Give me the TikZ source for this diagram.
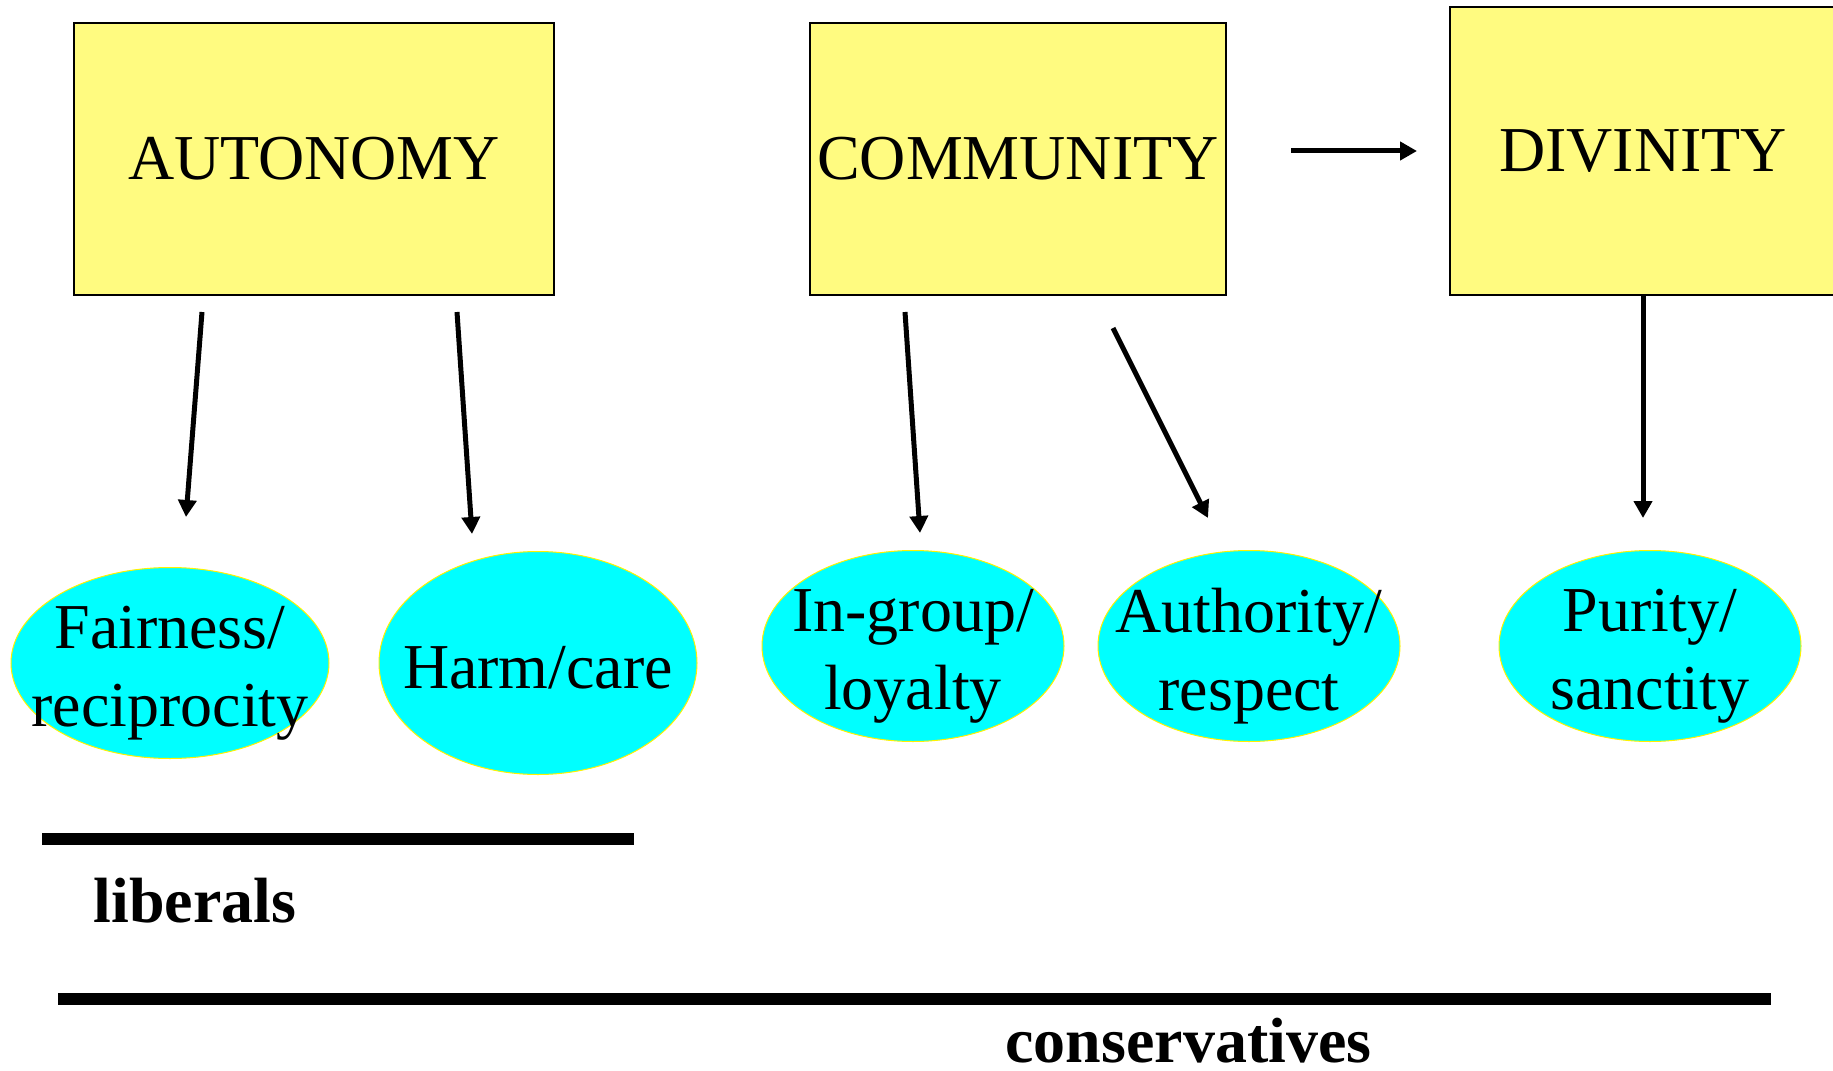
\documentclass[tikz,border=0pt]{standalone}
\usepackage{fontspec}
\setmainfont{Liberation Serif}
\usepackage{tikz}
\usetikzlibrary{arrows.meta, shapes.geometric}

\definecolor{boxyellow}{RGB}{255,251,128}
\definecolor{ovalcyan}{RGB}{0,255,255}

\begin{document}
\begin{tikzpicture}[>={Triangle[length=0.17cm,width=0.18cm]},line width=0.05cm]
\tikzstyle{ethicbox}=[rectangle,fill=boxyellow,draw=black,line width=0.02cm,inner sep=0pt]
\tikzstyle{foundoval}=[ellipse,fill=ovalcyan,draw=yellow,line width=0.01cm,inner sep=0pt]
\tikzstyle{ovaltext}=[align=center,inner sep=0pt,yshift=-0.1cm]
\tikzstyle{grouplabel}=[anchor=base west,inner sep=0pt,font=\bfseries\fontsize{18.2}{22.2}\selectfont]
\tikzset{font=\fontsize{18.2}{22.2}\selectfont}

\useasboundingbox (0,0) rectangle (18.33,-10.71);

        % ethics boxes
        \node[ethicbox,minimum width=4.80cm,minimum height=2.72cm]   (auto) at (3.14,-1.59)  {AUTONOMY};
        \node[ethicbox,minimum width=4.16cm,minimum height=2.72cm]   (comm) at (10.18,-1.59) {COMMUNITY};
        \node[ethicbox,minimum width=3.86cm,minimum height=2.88cm]   (div)  at (16.43,-1.51) {DIVINITY};

        % foundations
        \node[foundoval,minimum width=3.18cm,minimum height=1.91cm,
              label={[ovaltext]center:Fairness/\\reciprocity}]   (fair) at (1.70,-6.63)  {};
        \node[foundoval,minimum width=3.18cm,minimum height=2.23cm,
              label={[ovaltext,yshift=0.05cm]center:Harm/care}]  (harm) at (5.38,-6.63)  {};
        \node[foundoval,minimum width=3.02cm,minimum height=1.91cm,
              label={[ovaltext]center:In-group/\\loyalty}]       (ing)  at (9.13,-6.46)  {};
        \node[foundoval,minimum width=3.02cm,minimum height=1.91cm,
              label={[ovaltext]center:Authority/\\respect}]      (auth) at (12.49,-6.46) {};
        \node[foundoval,minimum width=3.02cm,minimum height=1.91cm,
              label={[ovaltext]center:Purity/\\sanctity}]        (pur)  at (16.50,-6.46) {};

        \path[->]
        ([shift={(-1.12,-0.16)}]auto.south)  edge  ([shift={(0.16,0.50)}]fair.north)
        ([shift={(1.43,-0.16)}]auto.south)   edge  ([shift={(-0.66,0.17)}]harm.north)
        ([shift={(-1.13,-0.16)}]comm.south)  edge  ([shift={(0.07,0.17)}]ing.north)
        ([shift={(0.95,-0.32)}]comm.south)   edge  ([shift={(-0.41,0.32)}]auth.north)
        (div.south)                          edge  ([shift={(-0.07,0.32)}]pur.north)
        ([shift={(0.64,0.08)}]comm.east)     edge  ([shift={(-0.32,0)}]div.west)
        ; %end path

        % who uses which
        \draw[line width=0.12cm] (0.42,-8.39) -- (6.34,-8.39);
        \draw[line width=0.12cm] (0.58,-9.99) -- (17.71,-9.99);
        \node[grouplabel] (lib)  at (0.91,-9.22)  {liberals};
        \node[grouplabel] (cons) at (10.03,-10.62) {conservatives};

\end{tikzpicture}
\end{document}
